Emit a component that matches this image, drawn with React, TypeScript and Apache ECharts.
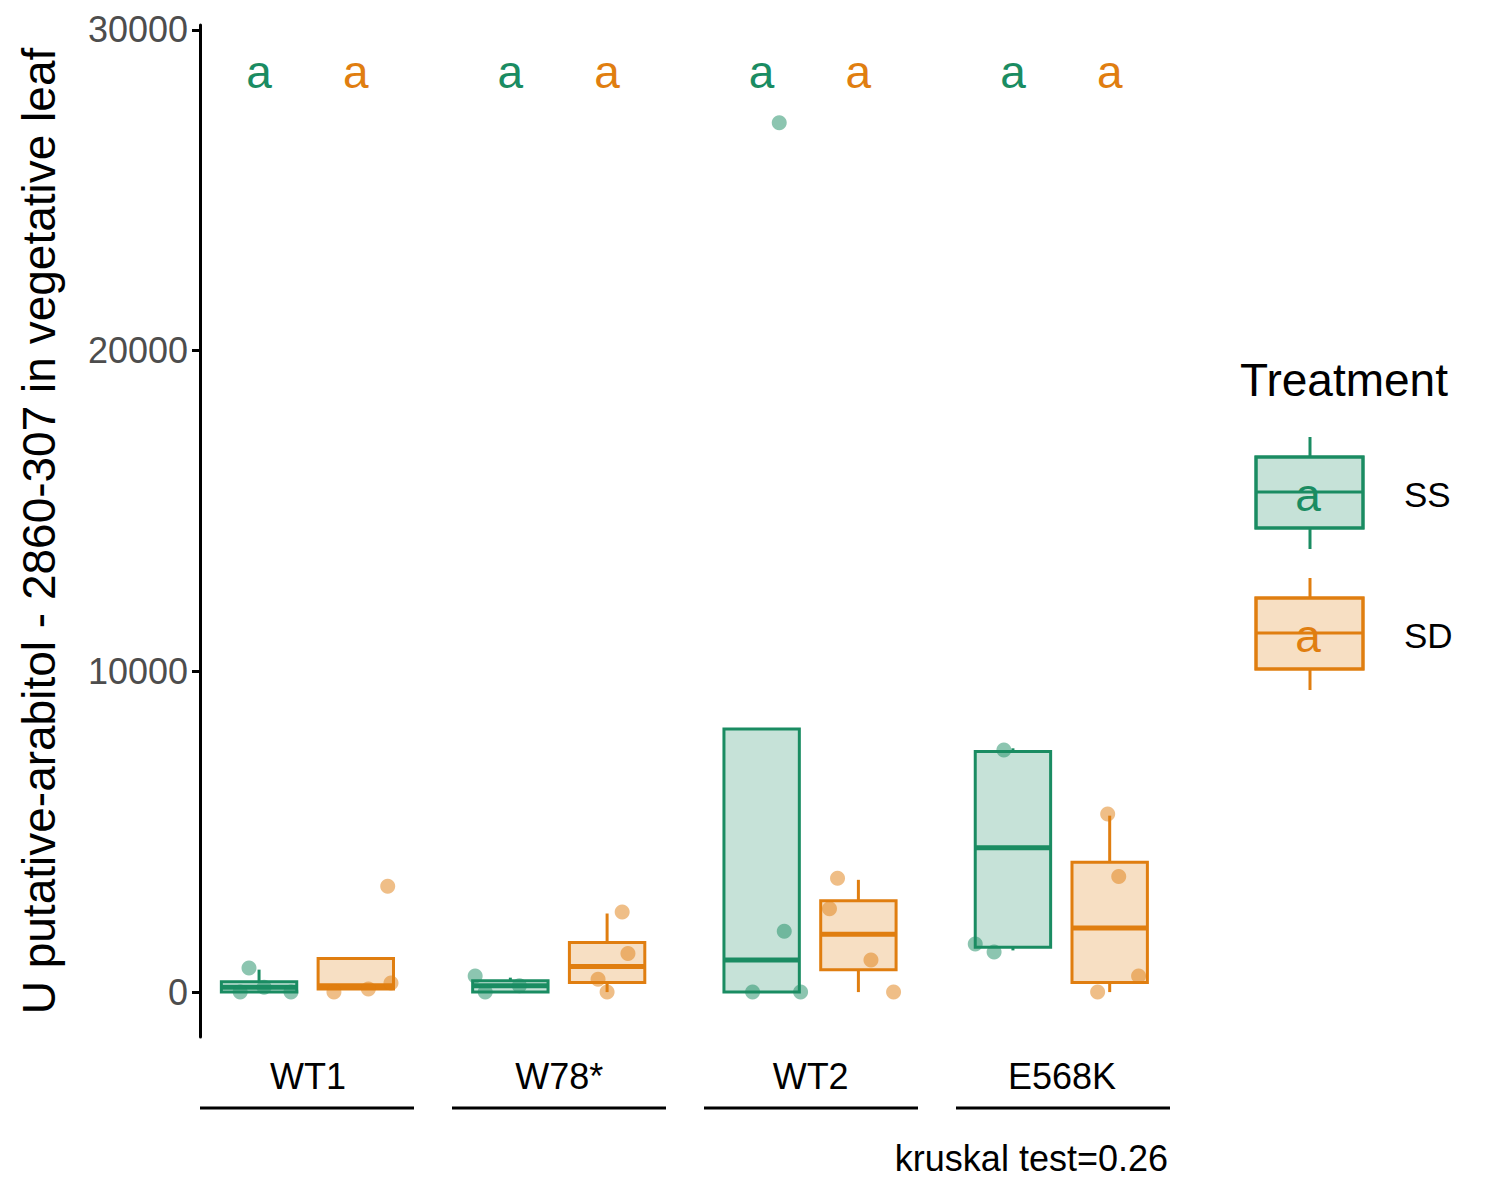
import { useEffect, useRef } from "react";
import * as echarts from "echarts";

const groups = ["WT1", "W78*", "WT2", "E568K"];
const treatments = ["SS", "SD"];
const colors = ["#1A8C62", "#E07E10"];
const fills = ["rgba(26,140,98,0.25)", "rgba(224,126,16,0.25)"];
const dodge = [-0.195, 0.19];

// [whiskerLow, q1, median, q3, whiskerHigh] per group
const boxSS = [
  [0, 0, 150, 320, 700],
  [0, 0, 200, 350, 450],
  [0, 0, 1000, 8200, 8200],
  [1300, 1400, 4500, 7500, 7600],
];
const boxSD = [
  [100, 100, 200, 1050, 1050],
  [0, 300, 800, 1550, 2450],
  [0, 700, 1800, 2850, 3500],
  [0, 300, 2000, 4050, 5500],
];

const pointsSS = [
  [750, 0, 0, 150],
  [500, 0, 200],
  [27100, 1900, 0, 0],
  [7550, 1500, 1250],
];
const jitterSS = [
  [-0.04, -0.075, 0.127, 0.02],
  [-0.14, -0.1, 0.036],
  [0.07, 0.09, -0.036, 0.155],
  [-0.036, -0.15, -0.075],
];
const pointsSD = [
  [3300, 0, 100, 280],
  [2500, 1200, 400, 0],
  [3550, 2600, 1000, 0],
  [5550, 3600, 500, 0],
];
const jitterSD = [
  [0.127, -0.087, 0.05, 0.14],
  [0.06, 0.083, -0.036, 0.0],
  [-0.083, -0.115, 0.05, 0.14],
  [-0.008, 0.036, 0.115, -0.048],
];
const letters = [["a", "a"], ["a", "a"], ["a", "a"], ["a", "a"]];
const yTicks = [0, 10000, 20000, 30000];

const App = () => {
  const chartRef = useRef<HTMLDivElement>(null);

  useEffect(() => {
    if (!chartRef.current) return;
    const chart = echarts.init(chartRef.current, null, { renderer: "svg" });
    const font = "Liberation Sans, Arial, sans-serif";

    const boxSeries = [boxSS, boxSD].map((boxes, t) => ({
      type: "custom",
      z: 2,
      data: boxes.map((b, g) => [g + 1 + dodge[t], ...b]),
      renderItem: (params: any, api: any) => {
        const x = api.value(0);
        const w = api.size([0.3, 0])[0];
        const [cx, lo] = api.coord([x, api.value(1)]);
        const q1 = api.coord([x, api.value(2)])[1];
        const med = api.coord([x, api.value(3)])[1];
        const q3 = api.coord([x, api.value(4)])[1];
        const hi = api.coord([x, api.value(5)])[1];
        const st = { stroke: colors[t], lineWidth: 3 };
        return {
          type: "group",
          children: [
            { type: "line", shape: { x1: cx, y1: q3, x2: cx, y2: hi }, style: st },
            { type: "line", shape: { x1: cx, y1: q1, x2: cx, y2: lo }, style: st },
            {
              type: "rect",
              shape: { x: cx - w / 2, y: q3, width: w, height: q1 - q3 },
              style: { fill: fills[t], stroke: colors[t], lineWidth: 3 },
            },
            { type: "line", shape: { x1: cx - w / 2, y1: med, x2: cx + w / 2, y2: med }, style: { stroke: colors[t], lineWidth: 5 } },
          ],
        };
      },
    }));

    const pointSeries = [
      [pointsSS, jitterSS],
      [pointsSD, jitterSD],
    ].map(([pts, jit], t) => ({
      type: "scatter",
      z: 3,
      symbolSize: 15,
      itemStyle: { color: colors[t], opacity: 0.5 },
      data: pts.flatMap((arr, g) => arr.map((v, i) => [g + 1 + dodge[t] + jit[g][i], v])),
    }));

    const letterSeries = treatments.map((_, t) => ({
      type: "scatter",
      z: 4,
      symbolSize: 0,
      itemStyle: { color: colors[t], opacity: 1 },
      label: {
        show: true,
        position: "inside",
        formatter: (p: any) => letters[p.dataIndex][t],
        color: colors[t],
        opacity: 1,
        fontSize: 46,
        fontFamily: font,
      },
      data: groups.map((_, g) => [g + 1 + dodge[t], 28700]),
    }));

    const legendKey = (t: number, top: number) => ({
      type: "group",
      children: [
        { type: "line", shape: { x1: 1302, y1: top - 20, x2: 1302, y2: top + 92 }, style: { stroke: colors[t], lineWidth: 3 } },
        { type: "rect", shape: { x: 1248, y: top, width: 107, height: 71 }, style: { fill: "#fff", stroke: colors[t], lineWidth: 3 } },
        { type: "rect", shape: { x: 1248, y: top, width: 107, height: 71 }, style: { fill: fills[t], stroke: colors[t], lineWidth: 3 } },
        { type: "line", shape: { x1: 1248, y1: top + 35, x2: 1355, y2: top + 35 }, style: { stroke: colors[t], lineWidth: 3 } },
        { type: "text", x: 1300, y: top + 38, style: { text: "a", fill: colors[t], fontSize: 46, fontFamily: font, align: "center", verticalAlign: "middle" } },
        { type: "text", x: 1396, y: top + 37, style: { text: treatments[t], fill: "#000", fontSize: 35, fontFamily: font, verticalAlign: "middle" } },
      ],
    });

    chart.setOption({
      animation: false,
      grid: { left: 190, width: 972, top: 17, bottom: 171 },
      xAxis: {
        type: "value",
        min: 0.57,
        max: 4.43,
        axisLine: { show: false },
        axisTick: { show: false },
        splitLine: { show: false },
        axisLabel: {
          customValues: [1, 2, 3, 4],
          formatter: (v: number) => groups[Math.round(v) - 1],
          color: "#000",
          fontSize: 36,
          fontFamily: font,
          margin: 21,
        },
      },
      yAxis: {
        type: "value",
        min: -1400,
        max: 30150,
        splitLine: { show: false },
        axisLine: { show: true, lineStyle: { color: "#000", width: 3 } },
        axisTick: { show: true, customValues: yTicks, length: 8, lineStyle: { color: "#000", width: 3 } },
        axisLabel: {
          customValues: yTicks,
          formatter: (v: number) => String(v),
          color: "#4d4d4d",
          fontSize: 36,
          fontFamily: font,
          margin: 12,
        },
        name: "U putative-arabitol - 2860-307 in vegetative leaf",
        nameLocation: "middle",
        nameGap: 138,
        nameTextStyle: { color: "#000", fontSize: 46, fontFamily: font },
      },
      series: [...boxSeries, ...pointSeries, ...letterSeries],
      graphic: [
        ...groups.map((_, g) => ({
          type: "line",
          shape: { x1: 192 + g * 252, y1: 1100, x2: 406 + g * 252, y2: 1100 },
          style: { stroke: "#000", lineWidth: 3 },
        })),
        { type: "text", x: 1160, y: 1150, style: { text: "kruskal test=0.26", fill: "#000", fontSize: 36, fontFamily: font, align: "right", verticalAlign: "middle" } },
        { type: "text", x: 1232, y: 372, style: { text: "Treatment", fill: "#000", fontSize: 46, fontFamily: font, verticalAlign: "middle" } },
        legendKey(0, 449),
        legendKey(1, 590),
      ],
    });

    return () => chart.dispose();
  }, []);

  return <div ref={chartRef} style={{ width: "1484px", height: "1200px" }}></div>;
};

export default App;
